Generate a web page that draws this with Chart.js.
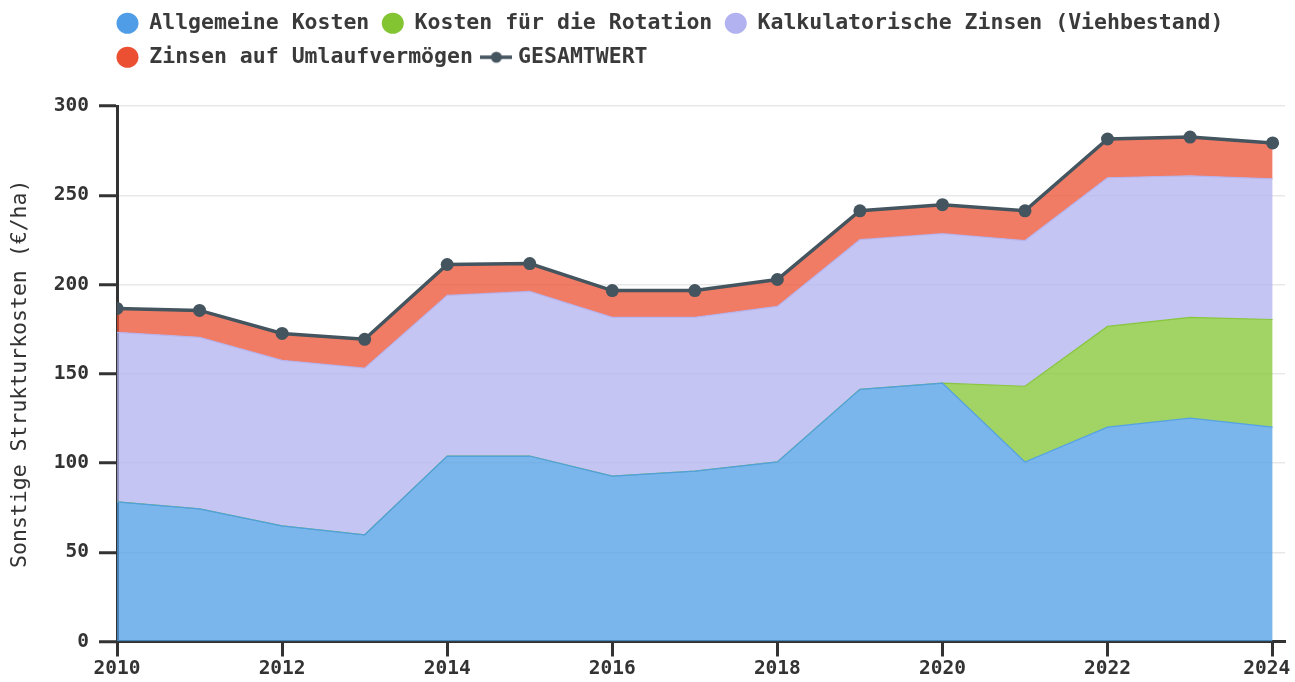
<!DOCTYPE html>
<html>
<head>
<meta charset="utf-8">
<script src="https://cdn.jsdelivr.net/npm/chart.js@4.4.1/dist/chart.umd.min.js"></script>
<style>
html,body{margin:0;padding:0;background:#fff;}
#wrap{width:1295px;height:682px;position:relative;}
</style>
</head>
<body>
<div id="wrap"><canvas id="c"></canvas></div>
<script>
// ---- data ----
const years = [2010, 2011, 2012, 2013, 2014, 2015, 2016, 2017, 2018, 2019, 2020, 2021, 2022, 2023, 2024];
const allgemeineKosten = [78.2, 74.3, 64.8, 59.8, 103.9, 103.9, 92.7, 95.5, 100.6, 141.3, 144.7, 100.6, 120.1, 125.1, 120.1];
const kostenRotation   = [0, 0, 0, 0, 0, 0, 0, 0, 0, 0, 0, 42.4, 56.4, 56.5, 60.3];
const kalkZinsen       = [95.0, 96.1, 92.7, 93.3, 90.0, 92.2, 88.9, 86.1, 87.1, 83.8, 83.8, 81.6, 83.3, 79.3, 78.8];
const zinsenUmlauf     = [13.4, 15.1, 15.1, 16.2, 17.3, 15.6, 15.0, 15.0, 15.1, 16.2, 16.2, 16.7, 21.7, 21.7, 20.1];
const gesamtwert       = [186.6, 185.5, 172.6, 169.3, 211.2, 211.7, 196.6, 196.6, 202.8, 241.3, 244.7, 241.3, 281.5, 282.6, 279.3];
const seriesNames = ['Allgemeine Kosten', 'Kosten für die Rotation', 'Kalkulatorische Zinsen (Viehbestand)', 'Zinsen auf Umlaufvermögen', 'GESAMTWERT'];
const xTickValues = [2010, 2012, 2014, 2016, 2018, 2020, 2022, 2024];
const yTickValues = [0, 50, 100, 150, 200, 250, 300];
const yTitle = 'Sonstige Strukturkosten (€/ha)';

// ---- styles ----
const FONT = '"DejaVu Sans Mono", monospace';
const solid = ['rgb(78,157,230)', 'rgb(130,196,50)', 'rgb(178,178,240)', 'rgb(235,80,50)'];
const fills = ['rgba(78,157,230,0.75)', 'rgba(130,196,50,0.75)', 'rgba(178,178,240,0.75)', 'rgba(235,80,50,0.75)'];
const edges = ['rgba(78,157,230,0.9)', 'rgba(130,196,50,0.9)', 'rgba(178,178,240,0.9)', 'rgba(235,80,50,0.9)'];
const totalColor = '#44555f';

function lineIcon(color) {
  const c = document.createElement('canvas');
  c.width = 32; c.height = 14;
  const g = c.getContext('2d');
  g.strokeStyle = color; g.lineWidth = 3.5;
  g.beginPath(); g.moveTo(0, 7); g.lineTo(32, 7); g.stroke();
  g.fillStyle = color;
  g.beginPath(); g.arc(16, 7, 5.5, 0, Math.PI * 2); g.fill();
  return c;
}
const totalIcon = lineIcon(totalColor);

const areaSeries = [allgemeineKosten, kostenRotation, kalkZinsen, zinsenUmlauf];
const datasets = areaSeries.map((d, i) => ({
  label: seriesNames[i],
  data: d,
  backgroundColor: fills[i],
  borderColor: edges[i],
  borderWidth: 1.2,
  fill: i === 0 ? 'origin' : '-1',
  pointRadius: 0,
  pointHoverRadius: 0,
  tension: 0,
  stack: 'parts',
  order: 1
}));
datasets.push({
  label: seriesNames[4],
  data: gesamtwert,
  borderColor: totalColor,
  backgroundColor: totalColor,
  borderWidth: 3.5,
  pointRadius: 6.5,
  pointBackgroundColor: totalColor,
  pointBorderColor: totalColor,
  pointBorderWidth: 0,
  fill: false,
  tension: 0,
  stack: 'total',
  order: 0
});

const legendShift = {
  id: 'legendShift',
  afterUpdate(chart) {
    const l = chart.legend;
    if (!l) return;
    l.left = 104;
    l.top = 0;
    l.bottom = l.height;
    if (l.adjustHitBoxes) l.adjustHitBoxes();
  }
};

new Chart(document.getElementById('c'), {
  type: 'line',
  data: { labels: years, datasets },
  plugins: [legendShift],
  options: {
    responsive: true,
    maintainAspectRatio: false,
    animation: false,
    layout: { autoPadding: false, padding: { top: 28, left: 4, right: 10, bottom: 0 } },
    plugins: {
      legend: {
        position: 'top',
        align: 'start',
        labels: {
          usePointStyle: true,
          pointStyleWidth: 22,
          boxHeight: 15,
          padding: 12.5,
          color: '#3a3a3a',
          font: { family: FONT, size: 21.5, weight: 'bold' },
          sort: (a, b) => a.datasetIndex - b.datasetIndex,
          generateLabels(chart) {
            const items = Chart.defaults.plugins.legend.labels.generateLabels(chart);
            items.forEach(it => {
              const i = it.datasetIndex;
              if (i < 4) {
                it.fillStyle = solid[i];
                it.strokeStyle = solid[i];
                it.lineWidth = 0;
                it.pointStyle = 'circle';
              } else {
                it.pointStyle = totalIcon;
                it.lineWidth = 0;
              }
              it.fontColor = '#3a3a3a';
            });
            return items;
          }
        }
      },
      tooltip: { enabled: false }
    },
    scales: {
      x: {
        type: 'linear',
        min: 2010,
        max: 2024.15,
        afterBuildTicks: s => { s.ticks = xTickValues.map(v => ({ value: v })); },
        afterFit: s => { s.paddingRight = 0; },
        ticks: {
          callback: (v, i, arr) => (i === arr.length - 1 ? String(v) + ' ' : String(v)),
          color: '#333',
          font: { family: FONT, size: 19.5, weight: 'bold', lineHeight: 1.0 },
          padding: 3,
          maxRotation: 0,
          autoSkip: false
        },
        grid: { drawOnChartArea: false, tickColor: '#333', tickWidth: 3, tickLength: 15 },
        border: { color: '#333', width: 3 }
      },
      y: {
        stacked: true,
        min: 0,
        max: 300,
        afterBuildTicks: s => { s.ticks = yTickValues.map(v => ({ value: v })); },
        ticks: {
          color: '#333',
          font: { family: FONT, size: 19.5, weight: 'bold' },
          padding: 10
        },
        grid: { color: 'rgba(0,0,0,0.09)', lineWidth: 1.5, tickColor: '#333', tickWidth: 3, tickLength: 18 },
        border: { color: '#333', width: 3 },
        title: {
          display: true,
          text: yTitle,
          color: '#333',
          font: { family: FONT, size: 21.5 },
          padding: { top: 4, bottom: 10 }
        }
      }
    }
  }
});
</script>
</body>
</html>
